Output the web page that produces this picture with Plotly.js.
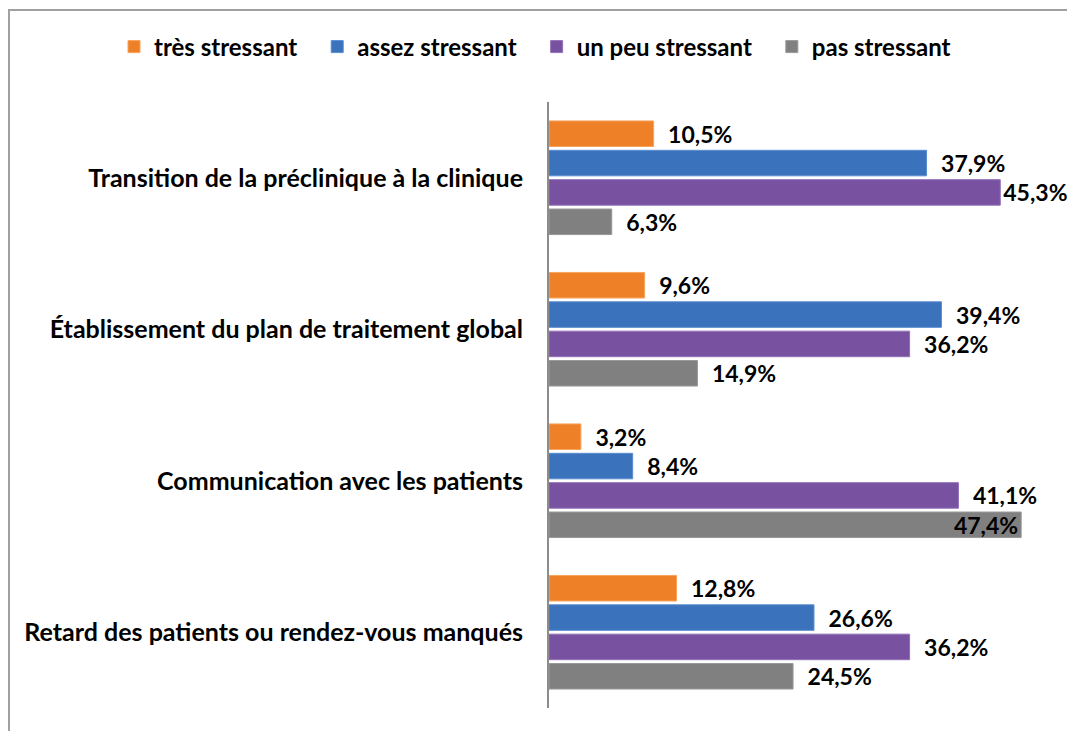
<!DOCTYPE html>
<html>
<head>
<meta charset="utf-8">
<script src="https://cdn.plot.ly/plotly-3.0.1.min.js"></script>
<style>
  html, body { margin: 0; padding: 0; background: #fff; }
  #wrap { position: relative; width: 1067px; height: 731px; overflow: hidden; }
  #chart { position: absolute; left: 0; top: 0; width: 1067px; height: 731px; }
  #frame { position: absolute; left: 8px; top: 9px; width: 1100px; height: 800px;
           border-left: 2px solid #a0a0a0; border-top: 2px solid #a0a0a0; pointer-events: none; }
</style>
</head>
<body>
<div id="wrap">
  <div id="chart"></div>
  <div id="frame"></div>
</div>
<script>
const categories = [
  "Transition de la préclinique à la clinique",
  "Établissement du plan de traitement global",
  "Communication avec les patients",
  "Retard des patients ou rendez-vous manqués"
];
const seriesNames = ["très stressant", "assez stressant", "un peu stressant", "pas stressant"];
const tresStressant   = [10.5, 9.6, 3.2, 12.8];
const assezStressant  = [37.9, 39.4, 8.4, 26.6];
const unPeuStressant  = [45.3, 36.2, 41.1, 36.2];
const pasStressant    = [6.3, 14.9, 47.4, 24.5];
const seriesValues = [tresStressant, assezStressant, unPeuStressant, pasStressant];
const colors = ["#EE8128", "#3A72BC", "#7852A0", "#808080"];
const lineColors = ["#F7A35C", "#5A8DD0", "#9270B8", "#999999"];

const xMax = 52;
const FONT = "Lato, 'Open Sans', sans-serif";

function fmt(v) { return v.toFixed(1).replace(".", ",") + "%"; }
function labelText(v) {
  if (v > xMax - 8) return fmt(v);
  return "\u2002" + fmt(v);
}

const traces = seriesValues.map((vals, i) => ({
  type: "bar",
  orientation: "h",
  name: seriesNames[i] + (i < seriesNames.length - 1 ? "\u2002\u2009" : ""),
  y: categories,
  x: vals,
  text: vals.map(labelText),
  textposition: vals.map(v => (v > xMax - 5 ? "inside" : "outside")),
  insidetextanchor: "end",
  cliponaxis: false,
  constraintext: "none",
  textfont: { family: FONT, size: 23, color: "#000", weight: "bold" },
  insidetextfont: { family: FONT, size: 23, color: "#000", weight: "bold" },
  outsidetextfont: { family: FONT, size: 23, color: "#000", weight: "bold" },
  marker: { color: colors[i], line: { color: lineColors[i], width: 1 } },
  hoverinfo: "skip"
}));

const plotLeft = 549, plotW = 1067 - 549, plotTop = 102, plotH = 731 - 102 - 23;

const layout = {
  width: 1067,
  height: 731,
  margin: { l: plotLeft, r: 0, t: plotTop, b: 23, pad: 0 },
  paper_bgcolor: "rgba(0,0,0,0)",
  plot_bgcolor: "rgba(0,0,0,0)",
  barmode: "group",
  bargap: 0.225,
  bargroupgap: 0.13,
  showlegend: true,
  legend: {
    orientation: "h",
    xref: "paper", yref: "paper",
    x: (114 - plotLeft) / plotW, xanchor: "left",
    y: 1 + (plotTop - 47) / plotH, yanchor: "middle",
    font: { family: FONT, size: 24, color: "#000", weight: "bold" },
    traceorder: "normal",
    itemwidth: 30
  },
  xaxis: {
    range: [0, xMax],
    showgrid: false, zeroline: false, showline: false,
    showticklabels: false, ticks: "", fixedrange: true
  },
  yaxis: {
    type: "category",
    categoryorder: "array",
    categoryarray: categories,
    autorange: "reversed",
    showgrid: false, zeroline: false,
    showline: true, linecolor: "#8c8c8c", linewidth: 2,
    ticks: "", ticklabelstandoff: 19,
    tickfont: { family: FONT, size: 25, color: "#000", weight: "bold" },
    fixedrange: true
  },
  font: { family: FONT }
};

Plotly.newPlot("chart", traces, layout, { displayModeBar: false, staticPlot: true });
</script>
</body>
</html>
